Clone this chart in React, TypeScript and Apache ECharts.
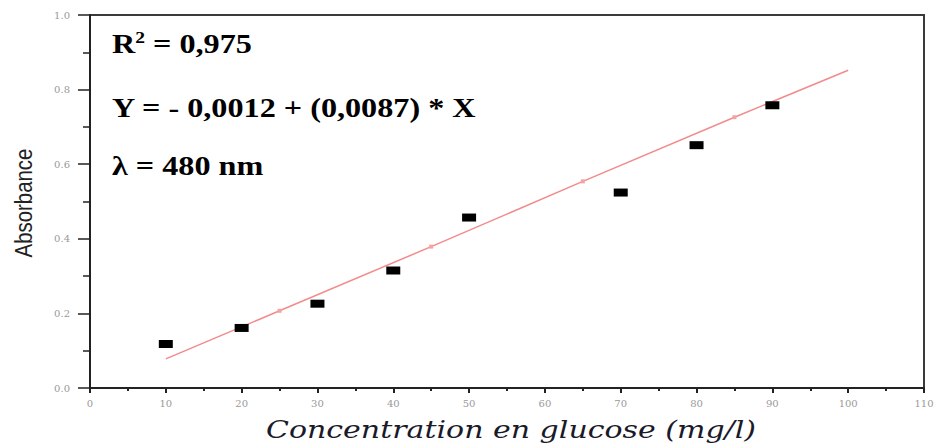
import React, { useEffect, useRef } from "react";
import * as echarts from "echarts";

const concentrations = [10, 20, 30, 40, 50, 70, 80, 90];
const absorbances = [0.118, 0.161, 0.226, 0.315, 0.457, 0.524, 0.651, 0.758];
const fitX = [10, 25, 45, 65, 85, 100];
const fitY = [0.078, 0.207, 0.379, 0.554, 0.726, 0.852];
const annotations = ["R", "2", " = 0,975", "Y = - 0,0012 + (0,0087) * X", "λ = 480 nm"];
const xTitle = "Concentration en glucose (mg/l)";
const yTitle = "Absorbance";

export default function App() {
  const ref = useRef<HTMLDivElement>(null);
  useEffect(() => {
    if (!ref.current) return;
    const chart = echarts.init(ref.current, null, { renderer: "svg" });
    const scatterData = concentrations.map((c, i) => [c, absorbances[i]]);
    const fitData = fitX.map((x, i) => ({
      value: [x, fitY[i]],
      symbolSize: i === 0 || i === fitX.length - 1 ? 0 : 4,
    }));
    const textFont = '"Liberation Serif", "Times New Roman", serif';
    const tickFont = '"DejaVu Serif", serif';
    chart.setOption({
      animation: false,
      backgroundColor: "#ffffff",
      grid: {
        left: 90,
        top: 15,
        right: 14,
        bottom: 57,
        show: true,
        borderColor: "#3a3a3a",
        borderWidth: 2,
        backgroundColor: "transparent",
      },
      xAxis: {
        type: "value",
        min: 0,
        max: 110,
        interval: 10,
        axisLine: { show: true, lineStyle: { color: "#222", width: 2 } },
        axisTick: { show: true, inside: false, length: 5, lineStyle: { color: "#222", width: 2 } },
        minorTick: { show: true, splitNumber: 2, length: 3, lineStyle: { color: "#222", width: 2 } },
        splitLine: { show: false },
        axisLabel: {
          fontSize: 10,
          color: "#999",
          fontFamily: tickFont,
          margin: 10,
        },
      },
      yAxis: {
        type: "value",
        min: 0,
        max: 1,
        interval: 0.2,
        axisLine: { show: true, lineStyle: { color: "#222", width: 2 } },
        axisTick: { show: true, inside: false, length: 12, lineStyle: { color: "#222", width: 1.5 } },
        minorTick: { show: true, splitNumber: 2, length: 7, lineStyle: { color: "#222", width: 1.5 } },
        splitLine: { show: false },
        axisLabel: {
          fontSize: 10,
          color: "#999",
          fontFamily: tickFont,
          margin: 20,
          formatter: (v: number) => v.toFixed(1),
        },
      },
      series: [
        {
          type: "line",
          data: fitData,
          symbol: "rect",
          itemStyle: { color: "#f5a3a3" },
          lineStyle: { color: "#f28b8b", width: 1.5 },
          z: 2,
        },
        {
          type: "scatter",
          data: scatterData,
          symbol: "rect",
          symbolSize: [14, 8],
          itemStyle: { color: "#000", opacity: 1 },
          z: 3,
        },
      ],
      graphic: [
        {
          type: "text",
          x: 112,
          y: 44,
          scaleX: 1.15,
          style: {
            text: `{a|${annotations[0]}}{s|${annotations[1]}}{a|${annotations[2]}}`,
            rich: {
              a: { fontSize: 28, fontWeight: "bold", fontFamily: textFont, fill: "#000", lineHeight: 30 },
              s: { fontSize: 17, fontWeight: "bold", fontFamily: textFont, fill: "#000", verticalAlign: "top", lineHeight: 30, padding: [0, 0, 12, 0] },
            },
            verticalAlign: "middle",
            align: "left",
          },
        },
        {
          type: "text",
          x: 112,
          y: 108,
          scaleX: 1.15,
          style: {
            text: annotations[3],
            font: `bold 28px ${textFont}`,
            fill: "#000",
            verticalAlign: "middle",
            align: "left",
          },
        },
        {
          type: "text",
          x: 112,
          y: 166,
          scaleX: 1.15,
          style: {
            text: annotations[4],
            font: `bold 28px ${textFont}`,
            fill: "#000",
            verticalAlign: "middle",
            align: "left",
          },
        },
        {
          type: "text",
          x: 24,
          y: 203,
          rotation: Math.PI / 2,
          scaleX: 0.85,
          style: {
            text: yTitle,
            font: `24px "Liberation Sans", Arial, sans-serif`,
            fill: "#222",
            align: "center",
            verticalAlign: "middle",
          },
        },
        {
          type: "text",
          x: 511,
          y: 429,
          scaleX: 1.2,
          style: {
            text: xTitle,
            font: `italic 25px "DejaVu Serif", serif`,
            fill: "#1a1a2a",
            align: "center",
            verticalAlign: "middle",
          },
        },
      ],
    });
    return () => chart.dispose();
  }, []);
  return <div ref={ref} style={{ width: 938, height: 445, position: "absolute", left: 0, top: 0 }} />;
}
